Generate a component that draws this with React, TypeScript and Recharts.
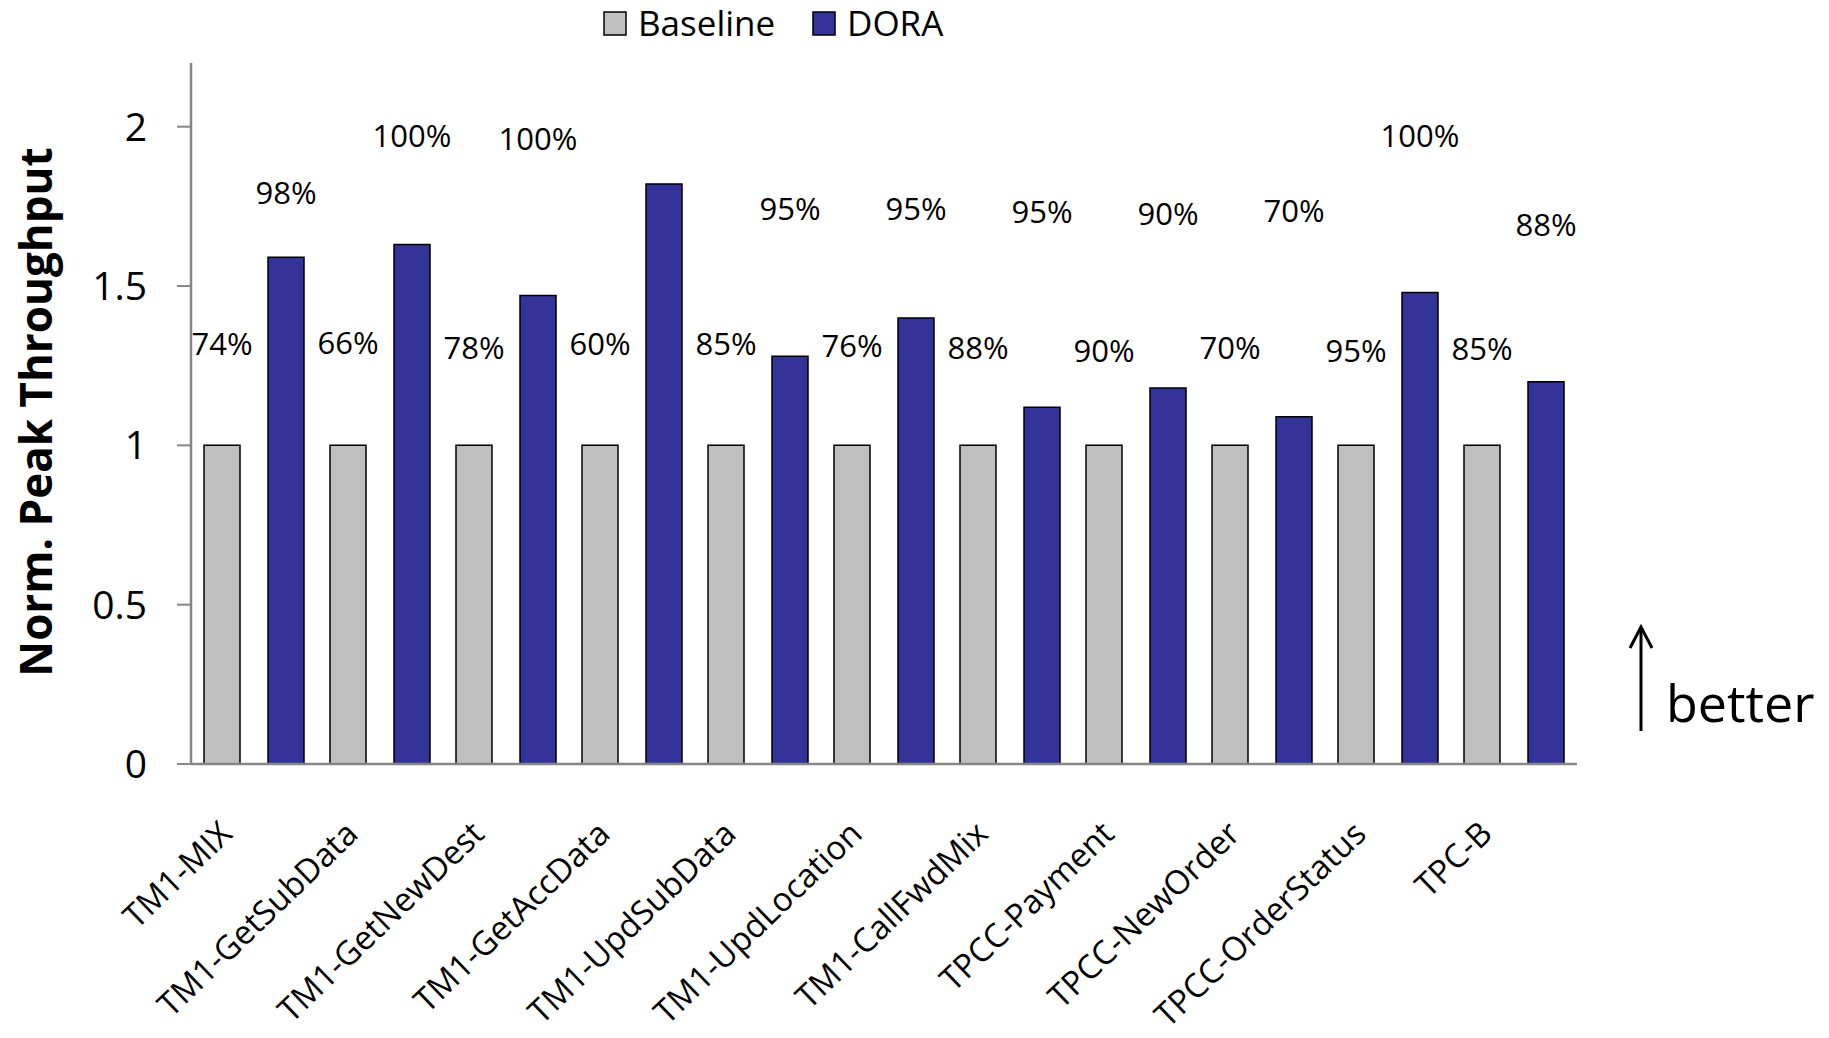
import { BarChart, Bar, XAxis, YAxis, Legend } from 'recharts';

const categories = [
  'TM1-MIX',
  'TM1-GetSubData',
  'TM1-GetNewDest',
  'TM1-GetAccData',
  'TM1-UpdSubData',
  'TM1-UpdLocation',
  'TM1-CallFwdMix',
  'TPCC-Payment',
  'TPCC-NewOrder',
  'TPCC-OrderStatus',
  'TPC-B',
];
const baseline = [1, 1, 1, 1, 1, 1, 1, 1, 1, 1, 1];
const dora = [1.59, 1.63, 1.47, 1.82, 1.28, 1.4, 1.12, 1.18, 1.09, 1.48, 1.2];

// percentage annotations and the height (in axis units) they sit at
const baselinePct = ['74%', '66%', '78%', '60%', '85%', '76%', '88%', '90%', '70%', '95%', '85%'];
const baselinePctAt = [1.32, 1.325, 1.31, 1.32, 1.32, 1.315, 1.31, 1.3, 1.31, 1.3, 1.305];
const doraPct = ['98%', '100%', '100%', '', '95%', '95%', '95%', '90%', '70%', '100%', '88%'];
const doraPctAt = [1.795, 1.975, 1.965, 0, 1.745, 1.745, 1.735, 1.73, 1.74, 1.975, 1.695];

const yTicks = [0, 0.5, 1, 1.5, 2];

const data = categories.map((name, i) => ({ name, Baseline: baseline[i], DORA: dora[i] }));

const FONT = '"Open Sans", sans-serif';
const AXIS_GRAY = '#868686';

const pctLabel = (texts: string[], at: number[]) => (props: any) => {
  const { x, y, width, height, value, index } = props;
  const text = texts[index];
  if (!text) return null;
  const bottom = y + height;
  const perUnit = height / value;
  return (
    <text
      x={x + width / 2}
      y={bottom - at[index] * perUnit}
      textAnchor="middle"
      dominantBaseline="central"
      fontFamily={FONT}
      fontSize={31}
      fill="#000"
    >
      {text}
    </text>
  );
};

const CategoryTick = (props: any) => {
  const { x, y, payload } = props;
  const tx = x - 20;
  const ty = y + 72;
  return (
    <text
      x={tx}
      y={ty}
      transform={`rotate(-44, ${tx}, ${ty})`}
      textAnchor="end"
      fontFamily={FONT}
      fontSize={33}
      fill="#000"
    >
      {payload.value}
    </text>
  );
};

const LegendContent = (props: any) => {
  const items = props.payload || [];
  const xs = [604, 813];
  return (
    <svg width={1829} height={50} style={{ display: 'block' }}>
      {items.map((it: any, i: number) => (
        <g key={it.value}>
          <rect x={xs[i]} y={12} width={22} height={23} fill={it.color} stroke="#000" strokeWidth={1.5} />
          <text x={xs[i] + 34} y={36} fontFamily={FONT} fontSize={35} fill="#000">
            {it.value}
          </text>
        </g>
      ))}
    </svg>
  );
};

export default function App() {
  return (
    <div style={{ position: 'absolute', left: 0, top: 0, width: 1829, height: 1038, background: '#fff' }}>
      <BarChart
        width={1829}
        height={1038}
        data={data}
        margin={{ top: 63, right: 252, bottom: 0, left: 0 }}
        barSize={36}
        barGap={28}
      >
        <XAxis
          dataKey="name"
          height={274}
          interval={0}
          tickLine={false}
          tickSize={0}
          tickMargin={0}
          axisLine={{ stroke: AXIS_GRAY, strokeWidth: 2.5 }}
          tick={<CategoryTick />}
        />
        <YAxis
          width={191}
          domain={[0, 2.2]}
          ticks={yTicks}
          allowDataOverflow
          tickSize={14}
          tickMargin={30}
          axisLine={{ stroke: AXIS_GRAY, strokeWidth: 2.5 }}
          tickLine={{ stroke: AXIS_GRAY, strokeWidth: 2 }}
          tick={{ fontFamily: FONT, fontSize: 39, fill: '#000' }}
          label={{
            content: () => (
              <text
                x={52}
                y={412}
                transform="rotate(-90, 52, 412)"
                textAnchor="middle"
                fontFamily={FONT}
                fontWeight={700}
                fontSize={44}
                fill="#000"
              >
                Norm. Peak Throughput
              </text>
            ),
          }}
        />
        <Legend
          layout="horizontal"
          align="center"
          verticalAlign="middle"
          wrapperStyle={{ top: 0, left: 0, width: 1829, height: 50 }}
          content={<LegendContent />}
        />
        <Bar
          dataKey="Baseline"
          fill="#C0C0C0"
          stroke="#000"
          strokeWidth={1.5}
          isAnimationActive={false}
          label={pctLabel(baselinePct, baselinePctAt)}
        />
        <Bar
          dataKey="DORA"
          fill="#333399"
          stroke="#000"
          strokeWidth={1.5}
          isAnimationActive={false}
          label={pctLabel(doraPct, doraPctAt)}
        />
      </BarChart>
      <svg
        width={1829}
        height={1038}
        style={{ position: 'absolute', left: 0, top: 0, pointerEvents: 'none' }}
      >
        <line x1={1641} y1={731} x2={1641} y2={628} stroke="#000" strokeWidth={3} />
        <polyline points="1630,648 1641,627 1652,648" fill="none" stroke="#000" strokeWidth={3} />
        <text x={1666} y={722} fontFamily={FONT} fontSize={52} fill="#000">
          better
        </text>
      </svg>
    </div>
  );
}
